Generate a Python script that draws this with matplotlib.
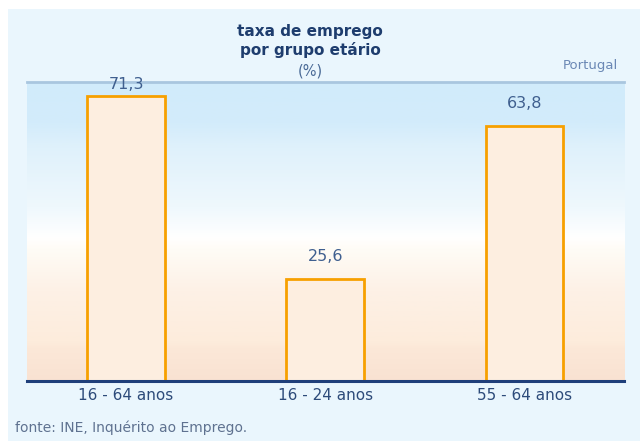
import numpy as np
import matplotlib
matplotlib.use("Agg")
import matplotlib.pyplot as plt
from matplotlib.colors import LinearSegmentedColormap
from matplotlib.patches import Rectangle

categories = ["16 - 64 anos", "16 - 24 anos", "55 - 64 anos"]
values = [71.3, 25.6, 63.8]
value_labels = ["71,3", "25,6", "63,8"]
title = "taxa de emprego\npor grupo etário"
unit = "(%)"
region = "Portugal"
source = "fonte: INE, Inquérito ao Emprego."

W, H = 640, 441
fig = plt.figure(figsize=(W / 100, H / 100), dpi=100, facecolor="white")

# light blue panel background
fig.patches.append(Rectangle((8 / W, 0), 1, 1 - 9 / H, transform=fig.transFigure,
                             facecolor="#eaf6fd", edgecolor="none", zorder=-10))

left, right, top, bottom = 26.5, 624, 82, 381
ax = fig.add_axes([left / W, 1 - bottom / H, (right - left) / W, (bottom - top) / H])
ax.set_zorder(5)
ymax = 74.75
ax.set_xlim(-0.5, 2.5)
ax.set_ylim(0, ymax)

# vertical gradient background
cmap = LinearSegmentedColormap.from_list("bg", [
    (0.0, "#f9e2d2"), (0.11, "#fce8d8"), (0.13, "#fdecdc"), (0.30, "#fdf1e6"),
    (0.44, "#fffcf6"), (0.48, "#ffffff"), (0.58, "#eff8fd"),
    (0.78, "#dff1fb"), (0.86, "#d3ecfb"), (1.0, "#d1ebfb")])
grad = np.linspace(0, 1, 256).reshape(-1, 1)
ax.imshow(grad, extent=[-0.5, 2.5, 0, ymax], origin="lower", aspect="auto",
          cmap=cmap, zorder=0)

x = np.arange(len(categories))
ax.bar(x, values, width=0.39, facecolor="#fdeee0", edgecolor="#f7a000",
       linewidth=2, zorder=2)

for xi, v, lab in zip(x, values, value_labels):
    ax.text(xi, min(v + 5.5, 74.0), lab, ha="center", va="center",
            fontsize=11.5, color="#3f5f8f", zorder=3)

for s in ["left", "right"]:
    ax.spines[s].set_visible(False)
ax.spines["top"].set_color("#a9c6df")
ax.spines["top"].set_linewidth(2)
ax.spines["bottom"].set_color("#1f3f7a")
ax.spines["bottom"].set_linewidth(2.2)
ax.set_yticks([])
ax.set_xticks(x)
ax.set_xticklabels(categories, fontsize=11, color="#2d4b7a")
ax.tick_params(axis="x", length=0, pad=5)

fig.text(310 / W, 1 - 41 / H, title, ha="center", va="center", fontsize=11,
         fontweight="bold", color="#1e3d6e", linespacing=1.3)
fig.text(310 / W, 1 - 71 / H, unit, ha="center", va="center", fontsize=10.5,
         color="#4a6a96")
fig.text(618 / W, 1 - 66 / H, region, ha="right", va="center", fontsize=9.5,
         color="#6b88b5")
fig.text(15 / W, 1 - 428 / H, source, ha="left", va="center", fontsize=10,
         color="#5f7290")

fig.savefig("out.png", dpi=100, facecolor="white")
